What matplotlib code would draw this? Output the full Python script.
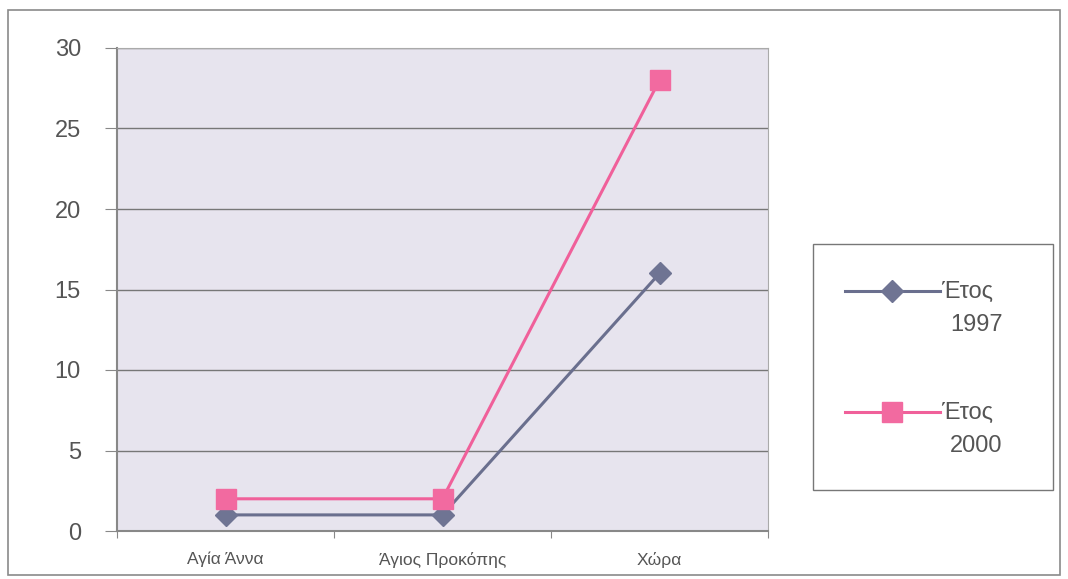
import numpy as np
import matplotlib.pyplot as plt
from matplotlib.patches import Rectangle
from matplotlib.lines import Line2D

# Data
categories = ['Αγία Άννα', 'Άγιος Προκόπης', 'Χώρα']
values_1997 = [1, 1, 16]
values_2000 = [2, 2, 28]
years = ['1997', '2000']

plt.rcParams['font.family'] = ['Liberation Sans', 'DejaVu Sans']

W, H = 1068, 579
fig = plt.figure(figsize=(W / 100, H / 100), dpi=100)
fig.patch.set_facecolor('white')

def fx(px):
    return px / W

def fy(py):
    return 1 - py / H

# outer frame
fig.patches.append(Rectangle((fx(8), fy(575)), fx(1052), 565 / H,
                             transform=fig.transFigure, fill=False,
                             edgecolor='#8a8a8a', linewidth=1.2))

ax = fig.add_axes([fx(117), fy(531), fx(651), 483 / H])
ax.set_facecolor('#e7e4ee')

styles = [
    dict(color='#6a6f8e', linewidth=2.2, marker='D', markersize=11,
         markerfacecolor='#6f7493', markeredgecolor='#6f7493'),
    dict(color='#f0609a', linewidth=2.2, marker='s', markersize=14,
         markerfacecolor='#f26aa0', markeredgecolor='#f26aa0'),
]

x = np.arange(len(categories))
for vals, st in zip([values_1997, values_2000], styles):
    ax.plot(x, vals, zorder=3, **st)

ax.set_xlim(-0.5, 2.5)
ax.set_ylim(0, 30)
ax.set_yticks(np.arange(0, 31, 5))
ax.set_yticklabels([str(v) for v in range(0, 31, 5)], fontsize=17, color='#555555')
ax.set_xticks([-0.5, 0.5, 1.5, 2.5])
ax.set_xticklabels([])
ax.set_xticks(x, minor=True)
ax.set_xticklabels(categories, minor=True, fontsize=12.5, color='#555555')
ax.tick_params(axis='x', which='minor', length=0, pad=15)
ax.tick_params(axis='x', which='major', length=5, color='#888888')
ax.tick_params(axis='y', length=9, color='#888888', pad=17)

ax.yaxis.grid(True, color='#777777', linewidth=1)
ax.set_axisbelow(True)
for side in ['top', 'right']:
    ax.spines[side].set_color('#aaaaaa')
for side in ['left', 'bottom']:
    ax.spines[side].set_color('#888888')
    ax.spines[side].set_linewidth(1.5)

# legend box drawn by hand so the marker sits level with the first text line
fig.patches.append(Rectangle((fx(813), fy(490)), fx(240), 246 / H,
                             transform=fig.transFigure, facecolor='white',
                             edgecolor='#777777', linewidth=1.0))
entry_y = [291, 412]
for yr, st, ey in zip(years, styles, entry_y):
    fig.lines.append(Line2D([fx(845), fx(940)], [fy(ey), fy(ey)],
                            transform=fig.transFigure, color=st['color'],
                            linewidth=st['linewidth']))
    fig.lines.append(Line2D([fx(892)], [fy(ey)], transform=fig.transFigure,
                            linestyle='none', marker=st['marker'],
                            markersize=st['markersize'],
                            markerfacecolor=st['markerfacecolor'],
                            markeredgecolor=st['markeredgecolor']))
    fig.text(fx(941), fy(ey + 7), 'Έτος', fontsize=17, color='#555555',
             ha='left', va='baseline')
    fig.text(fx(950), fy(ey + 40), yr, fontsize=17, color='#555555',
             ha='left', va='baseline')

fig.savefig('out.png', dpi=100)
